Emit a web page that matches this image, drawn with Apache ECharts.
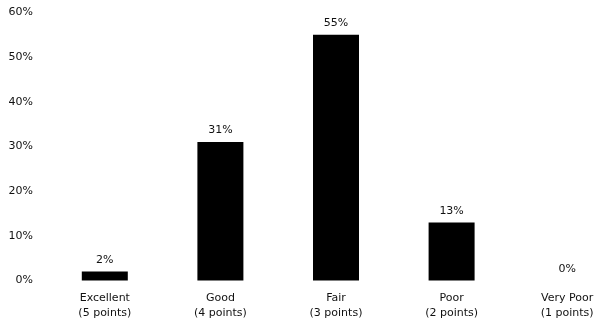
<!DOCTYPE html>
<html>
<head>
<meta charset="utf-8">
<script src="https://cdn.jsdelivr.net/npm/echarts@6/dist/echarts.min.js"></script>
<style>
  html, body { margin: 0; padding: 0; background: #fff; overflow: hidden; }
  /* the plot area runs a little past the right edge of the window */
  #wrap { width: 599px; height: 324px; overflow: hidden; }
  #chart { width: 625px; height: 324px; }
</style>
</head>
<body>
<div id="wrap"><div id="chart"></div></div>
<script>
// Rating categories and the share of responses for each
const categories = ['Excellent\n(5 points)', 'Good\n(4 points)', 'Fair\n(3 points)', 'Poor\n(2 points)', 'Very Poor\n(1 points)'];
const shares = [2, 31, 55, 13, 0];
const yTicks = { min: 0, max: 60, interval: 10 };

const fontFamily = '"DejaVu Sans", Verdana, sans-serif';
const chart = echarts.init(document.getElementById('chart'), null, { renderer: 'canvas' });

chart.setOption({
  animation: false,
  grid: { left: 47, right: 0, top: 12.5, height: 268, containLabel: false },
  xAxis: {
    type: 'category',
    data: categories,
    axisLine: { show: false },
    axisTick: { show: false },
    axisLabel: {
      interval: 0,
      margin: 10,
      color: '#111',
      fontFamily: fontFamily,
      fontSize: 11,
      lineHeight: 15
    }
  },
  yAxis: {
    type: 'value',
    min: yTicks.min,
    max: yTicks.max,
    interval: yTicks.interval,
    splitLine: { show: false },
    axisLine: { show: false },
    axisTick: { show: false },
    axisLabel: {
      margin: 14,
      formatter: '{value}%',
      color: '#111',
      fontFamily: fontFamily,
      fontSize: 11
    }
  },
  series: [{
    type: 'bar',
    data: shares,
    barWidth: 46,
    itemStyle: { color: '#000' },
    label: {
      show: true,
      position: 'top',
      distance: 6,
      formatter: '{c}%',
      color: '#111',
      fontFamily: fontFamily,
      fontSize: 11
    }
  }]
});
</script>
</body>
</html>
